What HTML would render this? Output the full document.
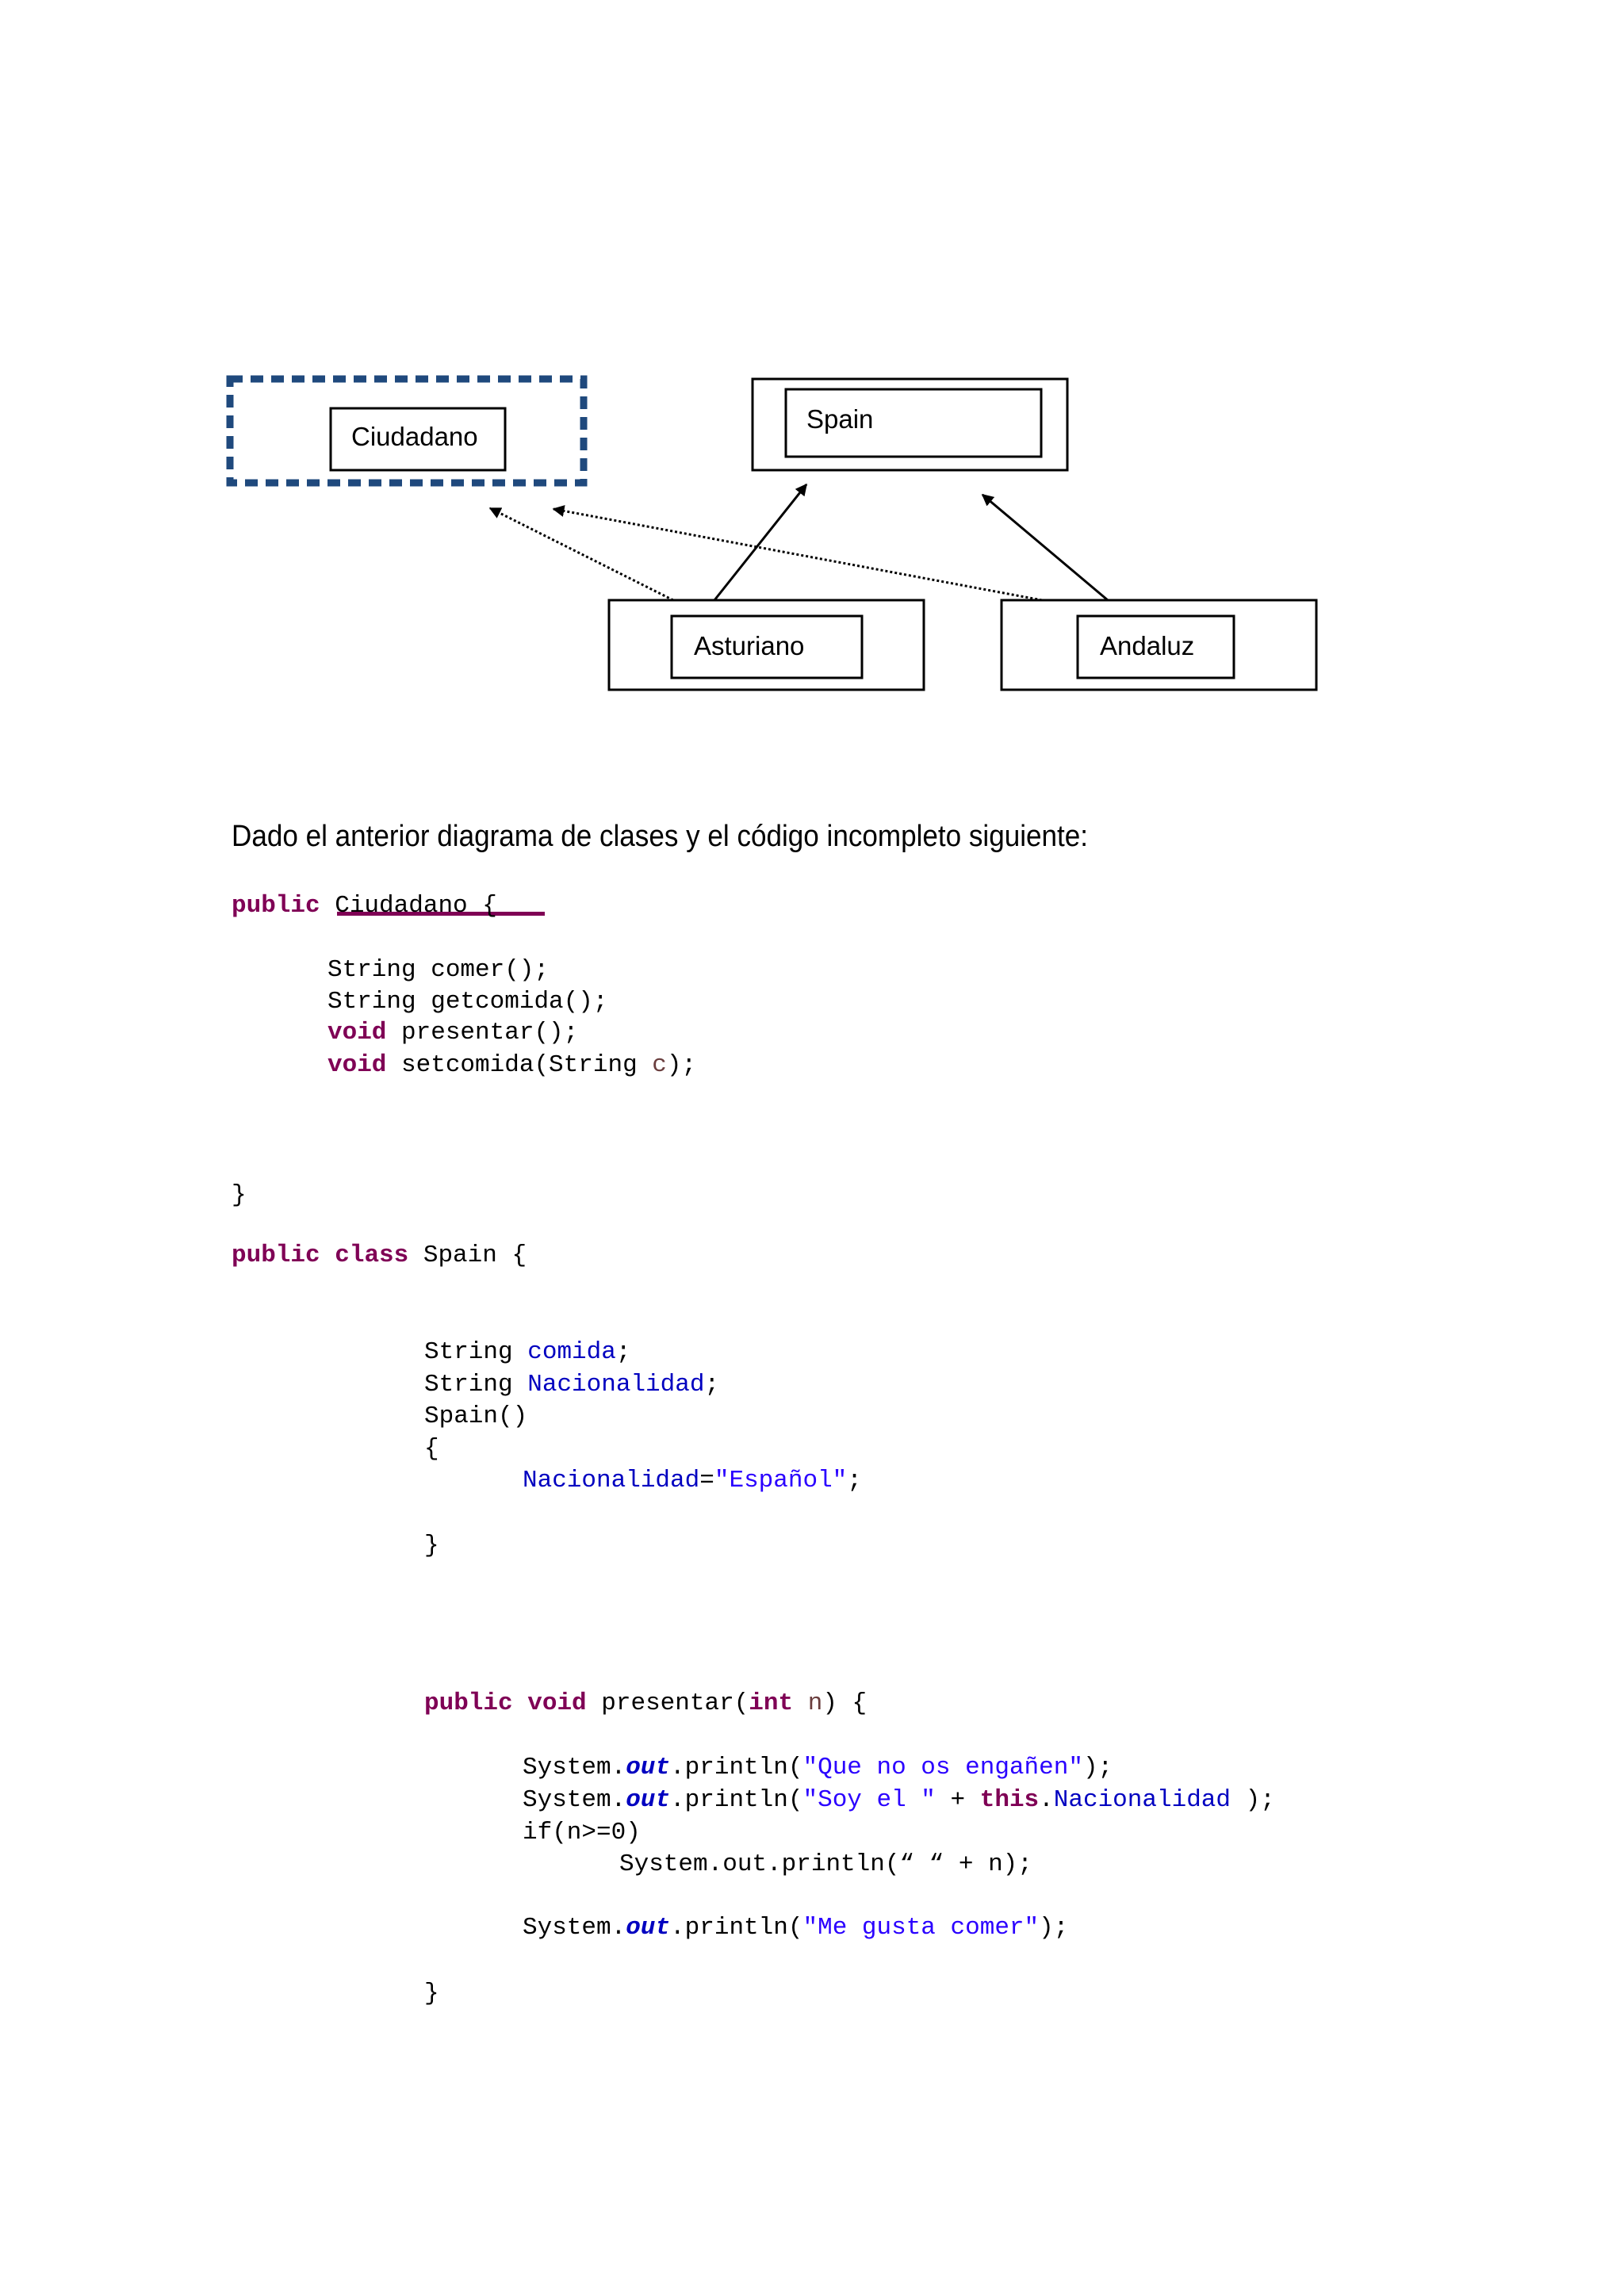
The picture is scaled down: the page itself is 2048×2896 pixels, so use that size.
<!DOCTYPE html>
<html><head><meta charset="utf-8"><style>
html,body{margin:0;padding:0;background:#fff}
svg{display:block}
.m{font-family:"Liberation Mono",monospace;font-size:31px;fill:#000}
.k{fill:#7f0055;font-weight:bold}
.f{fill:#0000c0}
.s{fill:#2a00ff}
.p{fill:#6a3e3e}
.o{fill:#0000c0;font-weight:bold;font-style:italic}
.l{font-family:"Liberation Sans",sans-serif;font-size:33px;fill:#000}
</style></head><body>
<svg width="2048" height="2896" viewBox="0 0 2048 2896" xmlns="http://www.w3.org/2000/svg">
<defs>
<marker id="a" viewBox="0 0 10 10" refX="9" refY="5" markerWidth="5" markerHeight="5" orient="auto"><path d="M0,0 L10,5 L0,10 z" fill="#000"/></marker>
</defs>
<rect x="290" y="478" width="446" height="131" fill="none" stroke="#1f497d" stroke-width="9" stroke-dasharray="16 10"/>
<rect x="417" y="515" width="220" height="78" fill="none" stroke="#000" stroke-width="3"/>
<text class="l" x="443" y="562">Ciudadano</text>
<rect x="949" y="478" width="397" height="115" fill="none" stroke="#000" stroke-width="3"/>
<rect x="991" y="491" width="322" height="85" fill="none" stroke="#000" stroke-width="3"/>
<text class="l" x="1017" y="540">Spain</text>
<rect x="768" y="757" width="397" height="113" fill="none" stroke="#000" stroke-width="3"/>
<rect x="847" y="777" width="240" height="78" fill="none" stroke="#000" stroke-width="3"/>
<text class="l" x="875" y="826">Asturiano</text>
<rect x="1263" y="757" width="397" height="113" fill="none" stroke="#000" stroke-width="3"/>
<rect x="1359" y="777" width="197" height="78" fill="none" stroke="#000" stroke-width="3"/>
<text class="l" x="1387" y="826">Andaluz</text>
<line x1="849" y1="757" x2="618" y2="641" stroke="#000" stroke-width="3" stroke-dasharray="3 3" marker-end="url(#a)"/>
<line x1="1314" y1="757" x2="698" y2="642" stroke="#000" stroke-width="3" stroke-dasharray="3 3" marker-end="url(#a)"/>
<line x1="901" y1="757" x2="1017" y2="611" stroke="#000" stroke-width="3" marker-end="url(#a)"/>
<line x1="1397" y1="757" x2="1239" y2="624" stroke="#000" stroke-width="3" marker-end="url(#a)"/>
<text x="292" y="1067" font-family="Liberation Sans,sans-serif" font-size="38" textLength="1080" lengthAdjust="spacingAndGlyphs">Dado el anterior diagrama de clases y el código incompleto siguiente:</text>
<rect x="425" y="1150" width="262" height="5" fill="#7f0055"/>
<g class="m" xml:space="preserve">
<text x="292" y="1150"><tspan class="k">public</tspan>                Ciudadano {</text>
<text x="413" y="1231">String comer();</text>
<text x="413" y="1271">String getcomida();</text>
<text x="413" y="1310"><tspan class="k">void</tspan> presentar();</text>
<text x="413" y="1351"><tspan class="k">void</tspan> setcomida(String <tspan class="p">c</tspan>);</text>
<text x="292" y="1515">}</text>
<text x="292" y="1591"><tspan class="k">public</tspan> <tspan class="k">class</tspan> Spain {</text>
<text x="535" y="1713">String <tspan class="f">comida</tspan>;</text>
<text x="535" y="1754">String <tspan class="f">Nacionalidad</tspan>;</text>
<text x="535" y="1794">Spain()</text>
<text x="535" y="1835">{</text>
<text x="659" y="1875"><tspan class="f">Nacionalidad</tspan>=<tspan class="s">"Español"</tspan>;</text>
<text x="535" y="1957">}</text>
<text x="535" y="2156"><tspan class="k">public</tspan> <tspan class="k">void</tspan> presentar(<tspan class="k">int</tspan> <tspan class="p">n</tspan>) {</text>
<text x="659" y="2237">System.<tspan class="o">out</tspan>.println(<tspan class="s">"Que no os engañen"</tspan>);</text>
<text x="659" y="2278">System.<tspan class="o">out</tspan>.println(<tspan class="s">"Soy el "</tspan> + <tspan class="k">this</tspan>.<tspan class="f">Nacionalidad</tspan> );</text>
<text x="659" y="2319">if(n&gt;=0)</text>
<text x="781" y="2359">System.out.println(“ “ + n);</text>
<text x="659" y="2439">System.<tspan class="o">out</tspan>.println(<tspan class="s">"Me gusta comer"</tspan>);</text>
<text x="535" y="2522">}</text>
</g>
</svg>
</body></html>
